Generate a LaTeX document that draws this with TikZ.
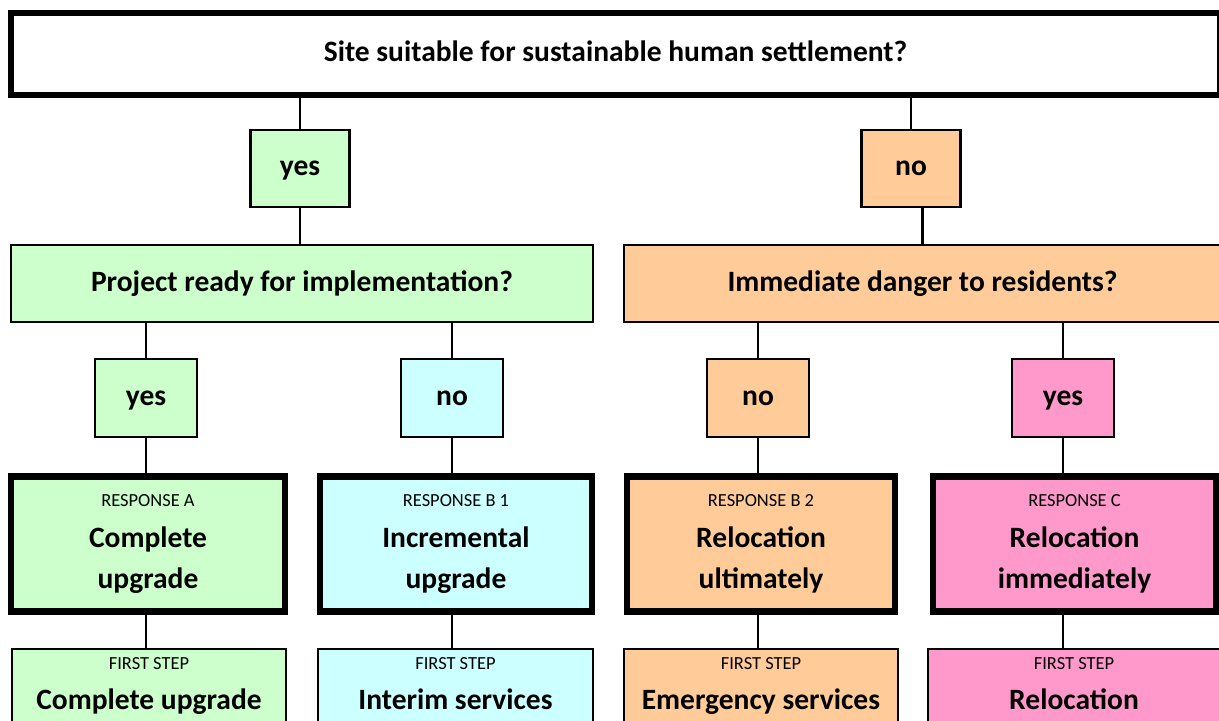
\documentclass[tikz,border=0pt]{standalone}
\usepackage{fontspec}
\setmainfont{Carlito}
\usepackage{xcolor}
\usetikzlibrary{calc}

\definecolor{paleGreen}{HTML}{CCFFCC}
\definecolor{paleCyan}{HTML}{CCFFFF}
\definecolor{palePeach}{HTML}{FFCC99}
\definecolor{palePink}{HTML}{FF99CC}
\newcommand{\capsline}[1]{{\fontsize{10.5}{12}\selectfont\mdseries #1}}
\newcommand{\evenline}{\vphantom{Ag}}

\begin{document}
\begin{tikzpicture}[x=0.02cm,y=-0.02cm,
  every node/.style={inner sep=0pt,align=center,
    font=\fontsize{16.8}{23.2}\selectfont\bfseries},
  boxsize/.style 2 args={minimum width=#1*0.02cm,minimum height=#2*0.02cm},
  thinbox/.style={draw,line width=1.2pt},
  heavybox/.style={draw,line width=3.5pt},
  link/.style={line width=1.2pt}]
  \useasboundingbox (0,0) rectangle (1219,720);

  % question
  \node[heavybox,fill=white,boxsize={1209}{82}] (site) at (615.5,54)
    {Site suitable for sustainable human settlement?\evenline};

  % first answers
  \node[thinbox,fill=paleGreen,boxsize={99}{77}] (yesA) at (300,168.5) {yes\evenline};
  \node[thinbox,fill=palePeach,boxsize={99}{77}] (noB) at (911,168.5) {no\evenline};

  % second questions
  \node[thinbox,fill=paleGreen,boxsize={582}{77}] (proj) at (302,283.5)
    {Project ready for implementation?\evenline};
  \node[thinbox,fill=palePeach,boxsize={597}{77}] (imm) at (922.5,283.5)
    {Immediate danger to residents?\evenline};

  % second answers
  \node[thinbox,fill=paleGreen,boxsize={102}{78}] (l3a) at (146,398) {yes\evenline};
  \node[thinbox,fill=paleCyan,boxsize={102}{78}] (l3b) at (452,398) {no\evenline};
  \node[thinbox,fill=palePeach,boxsize={102}{78}] (l3c) at (758,398) {no\evenline};
  \node[thinbox,fill=palePink,boxsize={102}{78}] (l3d) at (1063,398) {yes\evenline};

  % responses
  \node[heavybox,fill=paleGreen,boxsize={274}{135}] (ra) at (148,544)
    {\capsline{RESPONSE A}\\Complete\\upgrade\evenline};
  \node[heavybox,fill=paleCyan,boxsize={272}{135}] (rb) at (456,544)
    {\capsline{RESPONSE B 1}\\Incremental\\upgrade\evenline};
  \node[heavybox,fill=palePeach,boxsize={268}{135}] (rc) at (761,544)
    {\capsline{RESPONSE B 2}\\Relocation\\ultimately\evenline};
  \node[heavybox,fill=palePink,boxsize={283}{135}] (rd) at (1074.5,544)
    {\capsline{RESPONSE C}\\Relocation\\immediately\evenline};

  % first steps
  \node[thinbox,fill=paleGreen,boxsize={274}{74}] (fa) at (149,686)
    {\capsline{FIRST STEP}\\Complete upgrade\evenline};
  \node[thinbox,fill=paleCyan,boxsize={275}{74}] (fb) at (455.5,686)
    {\capsline{FIRST STEP}\\Interim services\evenline};
  \node[thinbox,fill=palePeach,boxsize={274}{74}] (fc) at (761,686)
    {\capsline{FIRST STEP}\\Emergency services\evenline};
  \node[thinbox,fill=palePink,boxsize={292}{74}] (fd) at (1074,686)
    {\capsline{FIRST STEP}\\Relocation\evenline};

  % connectors
  \draw[link] (site.south -| yesA) -- (yesA.north);
  \draw[link] (site.south -| noB) -- (noB.north);
  \draw[link] (yesA.south) -- (yesA.south |- proj.north);
  \draw[link] (noB.south -| imm.north) -- (imm.north);
  \foreach \c/\q in {a/proj,b/proj,c/imm,d/imm}{
    \draw[link] (l3\c.north |- \q.south) -- (l3\c.north);
    \draw[link] (l3\c.south) -- (l3\c.south |- r\c.north);
    \draw[link] (r\c.south -| l3\c) -- (f\c.north -| l3\c);
  }
\end{tikzpicture}
\end{document}
